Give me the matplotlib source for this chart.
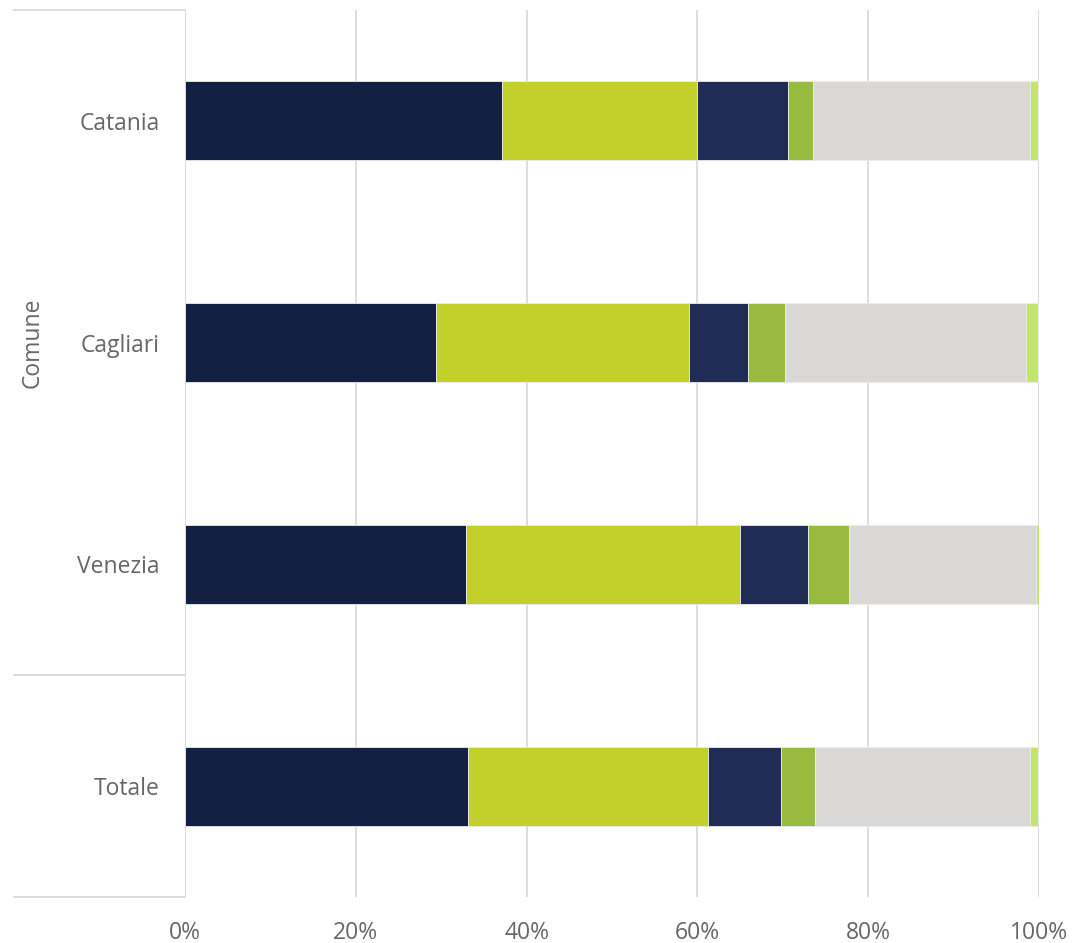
import numpy as np
import matplotlib.pyplot as plt
from matplotlib.ticker import FuncFormatter
import matplotlib.transforms as mtransforms

plt.rcParams['font.family'] = ['Open Sans', 'DejaVu Sans']

# data (share in %)
comuni = ['Catania', 'Cagliari', 'Venezia', 'Totale']
seg1 = [37.1, 29.4, 32.9, 33.1]
seg2 = [22.8, 29.6, 32.1, 28.2]
seg3 = [10.7, 6.9, 8.0, 8.5]
seg4 = [2.9, 4.3, 4.8, 4.0]
seg5 = [25.5, 28.3, 21.9, 25.2]
seg6 = [0.9, 1.4, 0.4, 0.9]
x_ticks = [0, 20, 40, 60, 80, 100]

segments = [seg1, seg2, seg3, seg4, seg5, seg6]
colours = ['#142043', '#C3D02B', '#202C55', '#97BA3F', '#D9D8D6', '#C3E66A']

fig = plt.figure(figsize=(10.74, 9.43), dpi=100)
ax = fig.add_axes([0.17225, 0.04878, 0.79516, 0.94062])

y = np.arange(len(comuni))
left = np.zeros(len(comuni))
for vals, col in zip(segments, colours):
    vals = np.array(vals)
    ax.barh(y, vals, left=left, height=0.356, color=col,
            edgecolor='#ECECEC', linewidth=0.6, zorder=3)
    left += vals

ax.set_xlim(0, 100)
ax.set_ylim(3.5, -0.5)
ax.set_xticks(x_ticks)
ax.xaxis.set_major_formatter(FuncFormatter(lambda v, p: f'{v:.0f}%'))
ax.set_yticks(y)
ax.set_yticklabels(comuni)
ax.tick_params(axis='both', length=0, labelsize=16.5, labelcolor='#666666')
ax.tick_params(axis='x', pad=17)
ax.tick_params(axis='y', pad=18)
ax.grid(axis='x', color='#DDDDDD', linewidth=1.4, zorder=0)
for s in ax.spines.values():
    s.set_visible(False)
ax.axvline(0, color='#DDDDDD', linewidth=1.4, zorder=1)

# header / group separator lines on the left
trans = mtransforms.blended_transform_factory(ax.transAxes, ax.transData)
for yy in [-0.5, 2.5, 3.5]:
    ax.plot([-0.2, 0], [yy, yy], transform=trans, color='#DDDDDD',
            linewidth=1.4, clip_on=False, zorder=1)

ax.text(-0.178, 1, 'Comune', transform=trans, rotation=90, ha='center',
        va='center', fontsize=16.5, color='#666666')

fig.savefig('out.png', dpi=100)
plt.close()
